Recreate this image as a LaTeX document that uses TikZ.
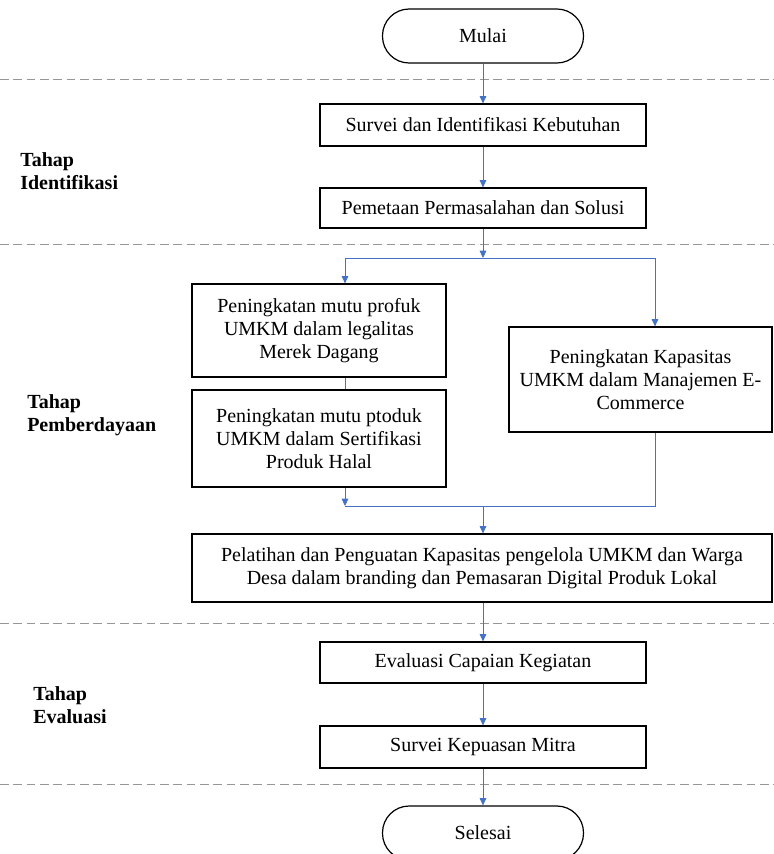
\documentclass[tikz,border=0pt]{standalone}
\usepackage{fontspec}
\setmainfont{Liberation Serif}
\usetikzlibrary{positioning, arrows.meta, calc}
\definecolor{flowblue}{RGB}{68,114,196}
\definecolor{sepgray}{RGB}{150,150,150}

\begin{document}
\begin{tikzpicture}[x=0.75pt, y=-0.75pt, font=\fontsize{15}{17.25}\selectfont,
       box/.style={draw=black, line width=0.9pt, align=center, inner sep=2pt,
                   minimum width=244.5pt},
       term/.style={box, rounded corners=20pt, minimum width=150.75pt, minimum height=40.5pt},
       lbl/.style={font=\fontsize{15}{17.25}\selectfont\bfseries, align=left, anchor=west, inner sep=0pt},
       flow/.style={-{Triangle[length=5.5pt, width=5pt]}, draw=flowblue, line width=0.6pt},
       link/.style={draw=flowblue, line width=0.6pt},
       sep/.style={draw=sepgray, line width=0.6pt, dash pattern=on 6.5pt off 3.5pt}]
     \useasboundingbox (0,0) rectangle (774,854);
     \node[term] (mulai) at (483,36) {Mulai};
     \node[box, minimum height=31.5pt] (survei) at (483,125) {Survei dan Identifikasi Kebutuhan};
     \node[box, minimum height=30pt] (petakan) at (483,208) {Pemetaan Permasalahan dan Solusi};
     \node[box, minimum width=190.5pt, minimum height=69.75pt] (merek) at (319,330.5)
        {Peningkatan mutu profuk\\UMKM dalam legalitas\\Merek Dagang};
     \node[box, minimum width=190.5pt, minimum height=72.75pt] (halal) at (319,438.5)
        {Peningkatan mutu ptoduk\\UMKM dalam Sertifikasi\\Produk Halal};
     \node[box, minimum width=197.25pt, minimum height=78.75pt] (ecom) at (640.5,379.5)
        {Peningkatan Kapasitas\\UMKM dalam Manajemen E-\\Commerce};
     \node[box, minimum width=435pt, minimum height=51pt] (latih) at (482,568)
        {Pelatihan dan Penguatan Kapasitas pengelola UMKM dan Warga\\Desa dalam branding dan Pemasaran Digital Produk Lokal};
     \node[box, minimum height=30.75pt] (evaluasi) at (483,662.5) {Evaluasi Capaian Kegiatan};
     \node[box, minimum height=31.5pt] (kepuasan) at (483,747) {Survei Kepuasan Mitra};
     \node[term] (selesai) at (483,833) {Selesai};

     \node[lbl] (tahap1) at (20,171) {Tahap\\Identifikasi};
     \node[lbl] (tahap2) at (27,415) {Tahap\\Pemberdayaan};
     \node[lbl] (tahap3) at (33,705) {Tahap\\Evaluasi};

     \coordinate (s0) at (0,79);   \coordinate (s1) at (774,79);
     \coordinate (s2) at (0,244);  \coordinate (s3) at (774,244);
     \coordinate (s4) at (0,623);  \coordinate (s5) at (774,623);
     \coordinate (s6) at (0,784);  \coordinate (s7) at (774,784);
     \draw[sep] (s0) -- (s1);
     \draw[sep] (s2) -- (s3);
     \draw[sep] (s4) -- (s5);
     \draw[sep] (s6) -- (s7);

     \coordinate (split) at (483,258);
     \coordinate (splitL) at (345,258);
     \coordinate (splitR) at (655,258);
     \coordinate (join) at (483,506);
     \coordinate (joinL) at (345,506);
     \coordinate (joinR) at (655,506);

     \draw[flow] (mulai) -- (survei);
     \draw[flow] (survei) -- (petakan);
     \draw[flow] (petakan) -- (split);
     \draw[link] (splitL) -- (splitR);
     \draw[flow] (splitL) -- (splitL |- merek.north);
     \draw[flow] (splitR) -- (splitR |- ecom.north);
     \draw[link] (merek.south -| splitL) -- (halal.north -| splitL);
     \draw[flow] (halal.south -| joinL) -- (joinL);
     \draw[link] (ecom.south -| joinR) -- (joinR) -- (joinL);
     \draw[flow] (join) -- (join |- latih.north);
     \draw[flow] (latih.south -| evaluasi) -- (evaluasi);
     \draw[flow] (evaluasi) -- (kepuasan);
     \draw[flow] (kepuasan) -- (selesai);
   \end{tikzpicture}
\end{document}
